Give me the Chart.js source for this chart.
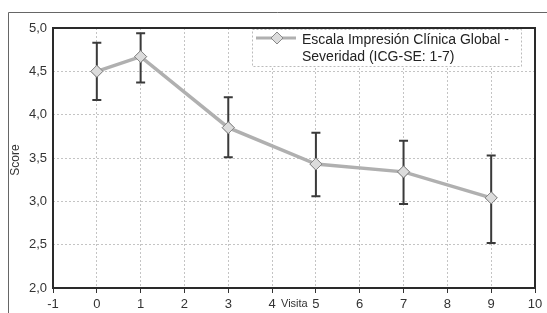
<!DOCTYPE html>
<html><head><meta charset="utf-8">
<script src="https://cdn.jsdelivr.net/npm/chart.js@4/dist/chart.umd.min.js"></script>
<style>html,body{margin:0;padding:0;background:#fff;}#wrap{width:547px;height:313px;position:relative;}</style>
</head><body><div id="wrap"><canvas id="c" width="547" height="313"></canvas></div>
<script>
const visits = [0, 1, 3, 5, 7, 9];
const scores = [4.50, 4.67, 3.85, 3.43, 3.34, 3.04];
const errHigh = [4.83, 4.94, 4.20, 3.79, 3.70, 3.53];
const errLow = [4.17, 4.37, 3.51, 3.06, 2.97, 2.52];
const seriesLabel = ['Escala Impresión Clínica Global -', 'Severidad (ICG-SE: 1-7)'];
const xTitle = 'Visita';
const yTitle = 'Score';

const FONT = 'Liberation Sans, Arial, sans-serif';

const decor = {
  id: 'decor',
  beforeDraw(chart) {
    const ctx = chart.ctx;
    ctx.save();
    ctx.fillStyle = '#fff';
    ctx.fillRect(0, 0, chart.width, chart.height);
    ctx.strokeStyle = '#666';
    ctx.lineWidth = 1;
    ctx.beginPath();
    ctx.moveTo(8.5, 313); ctx.lineTo(8.5, 12.5); ctx.lineTo(547, 12.5);
    ctx.stroke();
    ctx.restore();
  },
  afterDatasetsDraw(chart) {
    const ctx = chart.ctx, xs = chart.scales.x, ys = chart.scales.y, a = chart.chartArea;
    ctx.save();
    // error bars
    ctx.strokeStyle = '#3a3a3a';
    ctx.lineWidth = 2;
    visits.forEach((v, i) => {
      const x = xs.getPixelForValue(v);
      const y1 = ys.getPixelForValue(errHigh[i]);
      const y2 = ys.getPixelForValue(errLow[i]);
      ctx.beginPath();
      ctx.moveTo(x, y1); ctx.lineTo(x, y2);
      ctx.moveTo(x - 4.5, y1); ctx.lineTo(x + 4.5, y1);
      ctx.moveTo(x - 4.5, y2); ctx.lineTo(x + 4.5, y2);
      ctx.stroke();
    });
    // redraw points on top
    const meta = chart.getDatasetMeta(0);
    meta.data.forEach(p => p.draw(ctx, a));
    // plot frame
    ctx.strokeStyle = '#2a2a2a';
    ctx.lineWidth = 2;
    ctx.strokeRect(a.left, a.top, a.right - a.left, a.bottom - a.top);
    // legend
    const lx = 252, ly = 29, lw = 269, lh = 37;
    ctx.fillStyle = '#fff';
    ctx.fillRect(lx, ly, lw, lh);
    ctx.strokeStyle = '#bbb';
    ctx.lineWidth = 1;
    ctx.setLineDash([2, 2]);
    ctx.strokeRect(lx + 0.5, ly + 0.5, lw, lh);
    ctx.setLineDash([]);
    ctx.strokeStyle = '#b0b0b0';
    ctx.lineWidth = 3;
    ctx.beginPath(); ctx.moveTo(256, 38); ctx.lineTo(296, 38); ctx.stroke();
    ctx.fillStyle = '#dcdcdc'; ctx.strokeStyle = '#888'; ctx.lineWidth = 1;
    ctx.beginPath(); ctx.moveTo(277, 32); ctx.lineTo(283, 38); ctx.lineTo(277, 44); ctx.lineTo(271, 38); ctx.closePath();
    ctx.fill(); ctx.stroke();
    ctx.fillStyle = '#222';
    ctx.font = '14px ' + FONT;
    ctx.textBaseline = 'middle';
    ctx.textAlign = 'left';
    ctx.fillText(seriesLabel[0], 302, 40);
    ctx.fillText(seriesLabel[1], 302, 57);
    // axis titles
    ctx.fillStyle = '#333';
    ctx.font = '11px ' + FONT;
    ctx.fillText(xTitle, 281, 304);
    ctx.font = '12px ' + FONT;
    ctx.save();
    ctx.translate(16, 160);
    ctx.rotate(-Math.PI / 2);
    ctx.textAlign = 'center';
    ctx.fillText(yTitle, 0, 0);
    ctx.restore();
    ctx.restore();
  }
};

new Chart(document.getElementById('c'), {
  type: 'scatter',
  data: {
    datasets: [{
      label: seriesLabel.join(' '),
      data: visits.map((v, i) => ({x: v, y: scores[i]})),
      showLine: true,
      borderColor: '#b0b0b0',
      borderWidth: 3.5,
      pointStyle: 'rectRot',
      pointRadius: 6,
      pointBackgroundColor: '#dcdcdc',
      pointBorderColor: '#888',
      pointBorderWidth: 1,
      tension: 0
    }]
  },
  options: {
    responsive: false,
    animation: false,
    layout: {padding: {left: 0, right: 12, top: 28, bottom: 0}},
    plugins: {legend: {display: false}, tooltip: {enabled: false}},
    scales: {
      x: {
        type: 'linear', min: -1, max: 10,
        ticks: {stepSize: 1, color: '#333', font: {family: FONT, size: 13}, padding: 4},
        grid: {color: '#c4c4c4', tickColor: '#333', tickLength: 5, lineWidth: 1, drawTicks: true},
        border: {display: false, dash: [2, 2]},
        afterFit(s) { s.height = 25; }
      },
      y: {
        min: 2, max: 5,
        ticks: {stepSize: 0.5, color: '#333', font: {family: FONT, size: 13}, padding: 6,
          callback: v => v.toFixed(1).replace('.', ',')},
        grid: {color: '#c4c4c4', drawTicks: false},
        border: {display: false, dash: [2, 2]},
        afterFit(s) { s.width = 53; }
      }
    }
  },
  plugins: [decor]
});
</script></body></html>
